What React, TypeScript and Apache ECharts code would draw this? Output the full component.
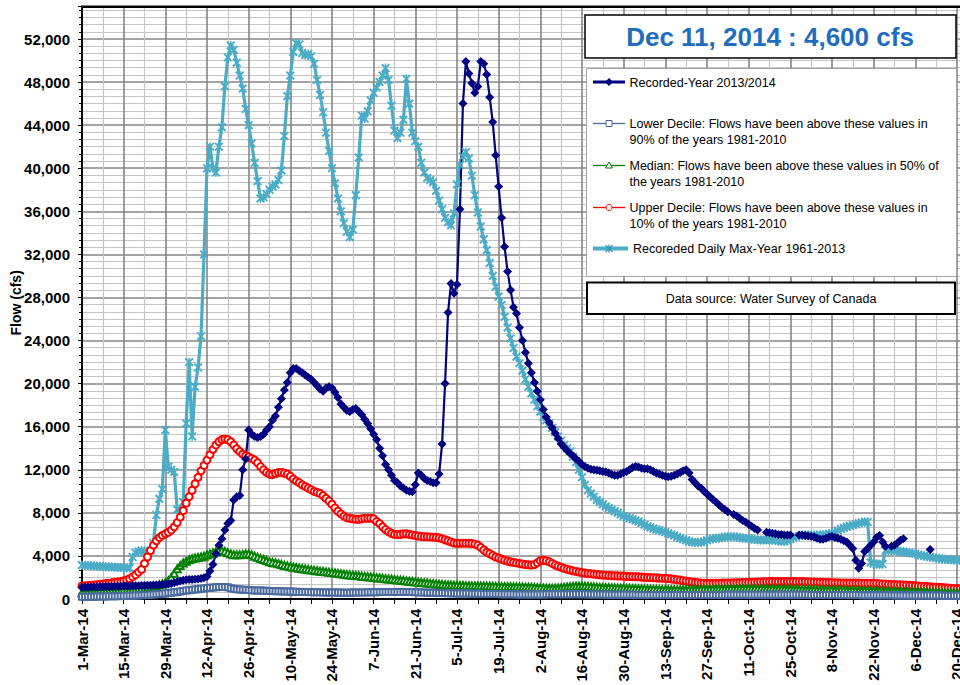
import React, { useEffect, useRef } from "react";
import * as echarts from "echarts";

// Day 0 = 1-Mar-14, one value per day
const tickLabels = [
  "1-Mar-14", "15-Mar-14", "29-Mar-14", "12-Apr-14", "26-Apr-14", "10-May-14", "24-May-14",
  "7-Jun-14", "21-Jun-14", "5-Jul-14", "19-Jul-14", "2-Aug-14", "16-Aug-14", "30-Aug-14",
  "13-Sep-14", "27-Sep-14", "11-Oct-14", "25-Oct-14", "8-Nov-14", "22-Nov-14", "6-Dec-14", "20-Dec-14",
];

const headline = "Dec 11, 2014 : 4,600 cfs";
const sourceText = "Data source: Water Survey of Canada";

const seriesNames = [
  "Recorded-Year 2013/2014",
  "Lower Decile: Flows have been above these values in 90% of the years 1981-2010",
  "Median: Flows have been above these values in 50% of the years 1981-2010",
  "Upper Decile: Flows have been above these values in 10% of the years 1981-2010",
  "Recoreded Daily Max-Year 1961-2013",
];

const legendLines = [
  ["Recorded-Year 2013/2014"],
  ["Lower Decile: Flows have been above these values in", "90% of the years 1981-2010"],
  ["Median: Flows have been above these values in 50% of", "the years 1981-2010"],
  ["Upper Decile: Flows have been above these values in", "10% of the years 1981-2010"],
  ["Recoreded Daily Max-Year 1961-2013"],
];

const recorded: (number | null)[] = [
  1100, 1100, 1100, 1110, 1120, 1120, 1130, 1140, 1150, 1150,
  1160, 1170, 1180, 1190, 1200, 1200, 1210, 1220, 1230, 1240,
  1250, 1260, 1270, 1280, 1290, 1300, 1320, 1340, 1360, 1400,
  1450, 1520, 1600, 1680, 1740, 1780, 1800, 1820, 1840, 1860,
  1900, 1980, 2100, 2600, 3200, 4200, 5000, 5600, 6400, 7000,
  7300, 9200, 9500, 9600, 12000, 13000, 15700, 15300, 15100, 15000,
  15100, 15300, 15700, 16000, 16600, 17000, 17800, 18600, 19400, 20100,
  21000, 21400, 21400, 21200, 21000, 20800, 20600, 20400, 20100, 19800,
  19500, 19300, 19600, 19700, 19600, 19200, 18700, 18100, 17800, 17500,
  17400, 17600, 17700, 17400, 17100, 16700, 16300, 15800, 15300, 14800,
  14000, 13300, 12500, 12000, 11500, 11000, 10800, 10500, 10300, 10100,
  10000, 9950, 10600, 11700, 11500, 11200, 11000, 10900, 10800, 10800,
  11600, 14400, 20000, 26600, 29300, 28400, 29200, 36200, 46000, 49900,
  48800, 47900, 47000, 47600, 49900, 49700, 48700, 46600, 44300, 41200,
  38300, 35400, 32700, 30400, 28700, 27100, 26500, 25200, 24000, 22900,
  21900, 21000, 20100, 19300, 18500, 17600, 16900, 16400, 15900, 15400,
  14900, 14400, 14100, 13800, 13500, 13300, 13000, 12800, 12500, 12300,
  12150, 12050, 12000, 11950, 11900, 11850, 11800, 11700, 11550, 11500,
  11500, 11600, 11750, 11850, 12000, 12200, 12300, 12250, 12150, 12100,
  12100, 12000, 11850, 11700, 11600, 11500, 11400, 11350, 11400, 11500,
  11600, 11750, 11900, 12000, 11700, 11100, 10800, 10500, 10300, 10000,
  9750, 9500, 9250, 9000, 8750, 8500, 8300, 8100, null, 7850,
  7700, 7500, 7300, 7150, 6950, 6750, 6550, 6400, null, null,
  6200, 6150, 6100, 6050, 6000, 6000, 5950, 5950, 5950, null,
  null, 5950, 5950, 5900, 5850, 5800, 5750, 5650, 5550, 5550,
  5650, 5750, 5800, 5700, 5650, 5550, 5400, 5300, 5000, 4700,
  3600, 2850, 3300, 4400, 4700, 5000, 5300, 5700, 5900, 5300,
  4900, null, 4900, 5000, 5200, 5450, 5600, null, null, null,
  null, null, null, null, null, 4600, null, null, null, null,
  null, null, null, null, null, null, null, null, null, null,
];

const lowerDecile = [
  200, 205, 210, 215, 220, 225, 230, 235, 240, 245,
  250, 258, 266, 274, 282, 290, 300, 310, 320, 335,
  350, 365, 380, 400, 415, 430, 460, 490, 520, 550,
  580, 620, 660, 700, 740, 780, 820, 850, 880, 910,
  950, 980, 1010, 1040, 1070, 1090, 1110, 1120, 1110, 1080,
  1000, 950, 910, 880, 860, 850, 840, 820, 800, 790,
  780, 770, 760, 750, 740, 730, 720, 710, 705, 700,
  690, 680, 670, 660, 650, 645, 640, 635, 630, 625,
  620, 615, 610, 605, 600, 600, 595, 595, 590, 590,
  590, 595, 600, 605, 610, 615, 620, 625, 630, 635,
  640, 645, 650, 650, 655, 655, 660, 660, 655, 650,
  650, 640, 630, 620, 610, 600, 590, 580, 575, 570,
  560, 555, 550, 545, 540, 530, 520, 515, 510, 505,
  500, 495, 490, 485, 480, 475, 470, 465, 460, 460,
  455, 450, 445, 440, 435, 430, 425, 420, 420, 420,
  420, 420, 420, 420, 425, 425, 430, 430, 435, 435,
  440, 440, 440, 440, 440, 440, 440, 440, 435, 430,
  430, 425, 420, 415, 410, 410, 405, 405, 400, 400,
  400, 395, 395, 390, 390, 385, 385, 380, 380, 375,
  375, 370, 370, 365, 365, 365, 360, 360, 360, 360,
  360, 360, 365, 365, 365, 370, 370, 370, 375, 375,
  375, 375, 380, 380, 380, 380, 380, 385, 385, 385,
  385, 385, 385, 390, 390, 390, 390, 390, 390, 390,
  390, 390, 390, 390, 390, 390, 390, 390, 390, 390,
  390, 385, 385, 385, 385, 380, 380, 380, 380, 375,
  375, 375, 370, 370, 370, 370, 365, 365, 365, 360,
  360, 360, 355, 355, 355, 350, 350, 350, 345, 345,
  345, 340, 340, 340, 335, 335, 335, 330, 330, 330,
  330, 325, 325, 325, 320, 320, 320, 315, 315, 315,
  310, 310, 310, 305, 305, 305, 300, 300, 300, 300,
];

const median = [
  600, 610, 620, 630, 640, 650, 660, 670, 680, 690,
  700, 720, 740, 760, 780, 800, 830, 860, 890, 920,
  960, 1000, 1050, 1100, 1150, 1220, 1300, 1400, 1520, 1700,
  2000, 2400, 2800, 3100, 3350, 3500, 3650, 3750, 3800, 3850,
  3900, 3980, 4080, 4180, 4280, 4380, 4480, 4500, 4420, 4300,
  4180, 4120, 4100, 4100, 4140, 4180, 4180, 4100, 3980, 3870,
  3770, 3670, 3570, 3470, 3400, 3340, 3280, 3200, 3120, 3060,
  3000, 2950, 2900, 2860, 2820, 2780, 2740, 2700, 2660, 2620,
  2580, 2550, 2520, 2480, 2450, 2410, 2380, 2340, 2300, 2260,
  2230, 2200, 2180, 2150, 2120, 2100, 2070, 2040, 2010, 1980,
  1950, 1920, 1890, 1860, 1830, 1800, 1770, 1740, 1710, 1680,
  1650, 1620, 1590, 1560, 1530, 1500, 1480, 1450, 1420, 1390,
  1370, 1350, 1320, 1300, 1290, 1280, 1270, 1260, 1250, 1240,
  1230, 1220, 1220, 1210, 1210, 1200, 1200, 1190, 1180, 1170,
  1160, 1150, 1150, 1140, 1140, 1130, 1130, 1120, 1110, 1100,
  1090, 1080, 1060, 1050, 1030, 1010, 1000, 990, 990, 1000,
  1020, 1050, 1080, 1110, 1140, 1160, 1180, 1190, 1190, 1180,
  1160, 1140, 1120, 1100, 1080, 1060, 1050, 1040, 1030, 1020,
  1010, 1000, 990, 980, 970, 960, 950, 940, 930, 920,
  910, 900, 890, 880, 870, 860, 860, 850, 850, 850,
  850, 850, 860, 860, 870, 870, 880, 880, 890, 890,
  900, 900, 910, 910, 920, 920, 930, 930, 940, 940,
  950, 950, 950, 950, 950, 950, 950, 940, 940, 930,
  930, 920, 920, 910, 910, 900, 900, 890, 890, 880,
  880, 870, 870, 860, 860, 850, 850, 840, 840, 830,
  830, 820, 820, 810, 810, 800, 800, 790, 790, 780,
  770, 770, 760, 750, 740, 740, 730, 720, 710, 700,
  700, 690, 690, 680, 680, 670, 670, 660, 660, 650,
  640, 640, 630, 620, 620, 610, 600, 600, 590, 580,
  570, 570, 560, 550, 550, 540, 530, 530, 520, 520,
];

const upperDecile = [
  1200, 1220, 1250, 1280, 1300, 1330, 1370, 1400, 1430, 1460,
  1500, 1540, 1580, 1620, 1680, 1750, 1880, 2050, 2250, 2500,
  2750, 3300, 3900, 4500, 5000, 5400, 5700, 5900, 6050, 6200,
  6400, 6700, 7100, 7600, 8200, 8900, 9500, 10100, 10700, 11300,
  11900, 12400, 12900, 13400, 13900, 14300, 14600, 14800, 14850, 14800,
  14600, 14300, 13950, 13700, 13450, 13300, 13200, 13050, 12900, 12650,
  12300, 12000, 11750, 11600, 11550, 11650, 11750, 11750, 11700, 11600,
  11400, 11150, 10950, 10800, 10600, 10450, 10300, 10150, 10000, 9900,
  9800, 9600, 9350, 9100, 8800, 8450, 8150, 7900, 7700, 7550,
  7500, 7450, 7400, 7400, 7450, 7500, 7500, 7500, 7450, 7200,
  7000, 6700, 6450, 6250, 6100, 6000, 5980, 6000, 6050, 6050,
  6000, 5950, 5900, 5850, 5800, 5780, 5780, 5760, 5740, 5720,
  5680, 5600, 5500, 5400, 5300, 5200, 5170, 5170, 5180, 5180,
  5170, 5150, 5100, 5000, 4800, 4550, 4350, 4200, 4050, 3900,
  3800, 3700, 3600, 3520, 3450, 3400, 3350, 3300, 3250, 3200,
  3180, 3150, 3200, 3350, 3550, 3600, 3550, 3450, 3300, 3150,
  3050, 2950, 2850, 2760, 2690, 2620, 2560, 2500, 2450, 2400,
  2370, 2340, 2310, 2280, 2250, 2230, 2210, 2190, 2170, 2160,
  2150, 2130, 2120, 2100, 2090, 2080, 2070, 2060, 2040, 2020,
  2000, 1990, 1970, 1960, 1940, 1930, 1920, 1900, 1870, 1830,
  1790, 1750, 1700, 1660, 1620, 1580, 1540, 1510, 1480, 1460,
  1450, 1450, 1450, 1460, 1460, 1470, 1470, 1480, 1490, 1500,
  1500, 1510, 1520, 1530, 1540, 1550, 1560, 1570, 1580, 1590,
  1600, 1610, 1610, 1610, 1610, 1620, 1620, 1620, 1620, 1620,
  1610, 1610, 1610, 1600, 1590, 1580, 1570, 1560, 1550, 1540,
  1530, 1520, 1510, 1500, 1500, 1490, 1490, 1480, 1480, 1470,
  1470, 1470, 1460, 1460, 1460, 1460, 1450, 1440, 1420, 1400,
  1390, 1370, 1350, 1340, 1320, 1310, 1300, 1290, 1270, 1250,
  1230, 1210, 1190, 1170, 1150, 1130, 1110, 1090, 1080, 1060,
  1040, 1020, 1000, 980, 960, 940, 920, 900, 890, 880,
];

const dailyMax = [
  3150, 3120, 3100, 3080, 3060, 3050, 3030, 3000, 3000, 2980,
  2960, 2950, 2930, 2920, 2900, 2890, 2870, 3900, 4300, 4400,
  4500, 4400, 4300, 4500, 5200, 7800, 9300, 10200, 15700, 12300,
  12000, 11800, 8300, 7800, 9000, 16300, 22000, 15100, 19700, 21500,
  24400, 32000, 40000, 42000, 40000, 39600, 42000, 43800, 47600, 50300,
  51400, 51000, 49800, 48600, 47400, 45500, 44000, 42300, 40500, 38800,
  37200, 37300, 37600, 38000, 38300, 38500, 38900, 39800, 43000, 46700,
  48600, 50800, 51600, 51500, 50700, 50500, 50600, 50400, 49700, 48200,
  46800, 45200, 43300, 41600, 40000, 38600, 37200, 36000, 34900, 34100,
  33600, 34300, 37500, 41000, 44900, 44600, 45300, 46300, 47000, 47500,
  48000, 48600, 49300, 48200, 45800, 43500, 42800, 43300, 44500, 48300,
  46000, 43300, 42500, 42000, 40500, 39600, 39100, 38900, 38700, 37900,
  37000, 36200, 35400, 35000, 34700, 35800, 38500, 40300, 41100, 41500,
  40900, 39300, 37500, 35900, 34600, 33400, 32400, 31200, 30000, 29000,
  28100, 27300, 26200, 25200, 24200, 23300, 22500, 21900, 21200, 20400,
  19700, 19100, 18500, 17900, 17400, 16900, 16600, 16300, 15900, 15500,
  15100, 14700, 14300, 14000, 13700, 13200, 12700, 12000, 11300, 10600,
  10100, 9800, 9500, 9200, 9000, 8800, 8600, 8450, 8300, 8150,
  8000, 7850, 7700, 7600, 7500, 7400, 7300, 7200, 7050, 6900,
  6750, 6650, 6550, 6450, 6400, 6300, 6200, 6100, 6000, 5900,
  5750, 5650, 5550, 5450, 5350, 5300, 5250, 5230, 5280, 5350,
  5450, 5540, 5600, 5630, 5650, 5700, 5750, 5780, 5790, 5780,
  5750, 5700, 5650, 5640, 5600, 5560, 5520, 5480, 5480, 5480,
  5480, 5480, 5480, 5450, 5400, 5350, 5330, 5400, 5550, 5700,
  5790, 5850, 5900, 5940, 5940, 5940, 5940, 5940, 5940, 5960,
  6000, 6050, 6100, 6200, 6350, 6500, 6600, 6700, 6800, 6870,
  6950, 7030, 7100, 7180, 7150, 3400, 3300, 3250, 3200, 3250,
  4500, 4550, 4500, 4480, 4450, 4420, 4400, 4350, 4300, 4250,
  4200, 4120, 4060, 4000, 3950, 3900, 3850, 3800, 3760, 3720,
  3700, 3670, 3640, 3620, 3600, 3580, 3550, 3530, 3510, 3500,
];

const FONT = '"Liberation Sans", Arial, sans-serif';
const STAR =
  "path://M0,1.5L1.5,0L5,3.5L8.5,0L10,1.5L6.5,5L10,8.5L8.5,10L5,6.5L1.5,10L0,8.5L3.5,5ZM4.2,0L5.8,0L5.8,10L4.2,10Z";

const toPairs = (arr: (number | null)[]) => arr.map((v, i) => [i, v === null ? "-" : v]);

export default function App() {
  const ref = useRef<HTMLDivElement>(null);

  useEffect(() => {
    document.body.style.margin = "0";
    document.body.style.overflow = "hidden";
    const chart = echarts.init(ref.current!, null, { renderer: "svg" });

    const colors = ["#000080", "#4a6a9e", "#008000", "#ff0000", "#4bacc6"];

    const graphic: any[] = [];
    // top border of plot
    graphic.push({ type: "line", z: 50, shape: { x1: 81, y1: 6.7, x2: 1000, y2: 6.7 }, style: { stroke: "#000", lineWidth: 2.5 } });
    // headline box
    graphic.push({ type: "rect", z: 100, shape: { x: 585, y: 15, width: 371, height: 43 }, style: { fill: "#fff", stroke: "#000", lineWidth: 1.5 } });
    graphic.push({
      type: "text", z: 101, x: 770, y: 37,
      style: { text: headline, fontSize: 26, fontWeight: "bold", fontFamily: FONT, fill: "#1f6dbf", align: "center", verticalAlign: "middle" },
    });
    // legend box
    graphic.push({ type: "rect", z: 100, shape: { x: 586.5, y: 68.5, width: 370, height: 208 }, style: { fill: "#fff", stroke: "#a6a6a6", lineWidth: 1 } });
    const rowY = [82, 123.5, 165.5, 207.5, 248.5];
    const lineW = [3, 1.3, 1.3, 1.3, 4];
    rowY.forEach((y, i) => {
      const c = colors[i];
      graphic.push({ type: "line", z: 101, shape: { x1: 593, y1: y, x2: i === 4 ? 628 : 625, y2: y }, style: { stroke: c, lineWidth: lineW[i] } });
      const mx = 609;
      if (i === 0) {
        graphic.push({ type: "polygon", z: 102, shape: { points: [[mx, y - 4], [mx + 4, y], [mx, y + 4], [mx - 4, y]] }, style: { fill: c } });
      } else if (i === 1) {
        graphic.push({ type: "rect", z: 102, shape: { x: mx - 3, y: y - 3, width: 6, height: 6 }, style: { fill: "#fff", stroke: c, lineWidth: 1 } });
      } else if (i === 2) {
        graphic.push({ type: "polygon", z: 102, shape: { points: [[mx, y - 3.5], [mx + 3.5, y + 2.5], [mx - 3.5, y + 2.5]] }, style: { fill: "#fff", stroke: c, lineWidth: 1 } });
      } else if (i === 3) {
        graphic.push({ type: "circle", z: 102, shape: { cx: mx, cy: y, r: 3 }, style: { fill: "#fff", stroke: c, lineWidth: 1 } });
      } else {
        graphic.push({ type: "line", z: 102, shape: { x1: mx - 3.5, y1: y - 3.5, x2: mx + 3.5, y2: y + 3.5 }, style: { stroke: "#3a9ab5", lineWidth: 1.3 } });
        graphic.push({ type: "line", z: 102, shape: { x1: mx - 3.5, y1: y + 3.5, x2: mx + 3.5, y2: y - 3.5 }, style: { stroke: "#3a9ab5", lineWidth: 1.3 } });
        graphic.push({ type: "line", z: 102, shape: { x1: mx, y1: y - 4, x2: mx, y2: y + 4 }, style: { stroke: "#3a9ab5", lineWidth: 1.3 } });
      }
      legendLines[i].forEach((t, k) => {
        graphic.push({
          type: "text", z: 102, x: i === 4 ? 633 : 629.5, y: y + 0.5 + k * 15.5,
          style: { text: t, fontSize: 12.5, fontFamily: FONT, fill: "#000", align: "left", verticalAlign: "middle" },
        });
      });
    });
    // data source box
    graphic.push({ type: "rect", z: 100, shape: { x: 587, y: 282.5, width: 368, height: 31.5 }, style: { fill: "#fff", stroke: "#000", lineWidth: 2 } });
    graphic.push({
      type: "text", z: 101, x: 771, y: 298.5,
      style: { text: sourceText, fontSize: 12.5, fontFamily: FONT, fill: "#000", align: "center", verticalAlign: "middle" },
    });

    const axisCommon = {
      axisLine: { show: true, onZero: false, lineStyle: { color: "#000", width: 2 } },
      splitLine: { show: true, lineStyle: { color: "#868686", width: 1.6 } },
      minorSplitLine: { show: true, lineStyle: { color: "#c6c6c6", width: 1.2 } },
    };

    const option: any = {
      animation: false,
      backgroundColor: "#fff",
      grid: {
        left: 82, top: 6.7, width: 892.8, height: 592.3, show: false,
        containLabel: false, outerBoundsMode: "none",
      },
      xAxis: {
        type: "value", min: 0, max: 300, interval: 14,
        ...axisCommon,
        axisTick: { show: true, length: 5, lineStyle: { color: "#000", width: 1 } },
        minorTick: { show: true, splitNumber: 2, length: 5, lineStyle: { color: "#000", width: 1 } },
        axisLabel: {
          rotate: 90, margin: 10, color: "#000", fontSize: 15, fontWeight: "bold", fontFamily: FONT,
          hideOverlap: false,
          formatter: (v: number) => (v % 14 === 0 ? tickLabels[v / 14] ?? "" : ""),
        },
      },
      yAxis: {
        type: "value", min: 0, max: 55000, interval: 4000,
        ...axisCommon,
        name: "Flow (cfs)", nameLocation: "middle", nameGap: 59, nameMoveOverlap: false,
        nameTextStyle: { color: "#000", fontSize: 14, fontWeight: "bold", fontFamily: FONT },
        axisTick: { show: true, length: 4, lineStyle: { color: "#000", width: 1 } },
        minorTick: { show: true, splitNumber: 6, length: 3, lineStyle: { color: "#000", width: 1 } },
        axisLabel: {
          margin: 12, color: "#000", fontSize: 15, fontWeight: "bold", fontFamily: FONT,
          formatter: (v: number) => (v % 4000 === 0 ? v.toLocaleString("en-US") : ""),
        },
      },
      graphic,
      series: [
        {
          name: seriesNames[4], type: "line", data: toPairs(dailyMax), showAllSymbol: true,
          symbol: STAR, symbolSize: 9, lineStyle: { color: colors[4], width: 3.2 }, itemStyle: { color: colors[4] },
        },
        {
          name: seriesNames[3], type: "line", data: toPairs(upperDecile), showAllSymbol: true,
          symbol: "emptyCircle", symbolSize: 7, lineStyle: { color: colors[3], width: 1.3 }, itemStyle: { color: colors[3], borderWidth: 1.2 },
        },
        {
          name: seriesNames[2], type: "line", data: toPairs(median), showAllSymbol: true,
          symbol: "emptyTriangle", symbolSize: 7, lineStyle: { color: colors[2], width: 1.3 }, itemStyle: { color: colors[2], borderWidth: 1.3 },
        },
        {
          name: seriesNames[1], type: "line", data: toPairs(lowerDecile), showAllSymbol: true,
          symbol: "emptyRect", symbolSize: 6, lineStyle: { color: colors[1], width: 1.5 }, itemStyle: { color: colors[1], borderWidth: 1.4 },
        },
        {
          name: seriesNames[0], type: "line", data: toPairs(recorded), showAllSymbol: true, connectNulls: false,
          symbol: "diamond", symbolSize: 9, lineStyle: { color: colors[0], width: 2.2 }, itemStyle: { color: colors[0] },
        },
      ],
    };

    chart.setOption(option);
    return () => chart.dispose();
  }, []);

  return (
    <div
      ref={ref}
      style={{ position: "absolute", left: 0, top: 0, width: 1000, height: 685, background: "#fff" }}
    />
  );
}
